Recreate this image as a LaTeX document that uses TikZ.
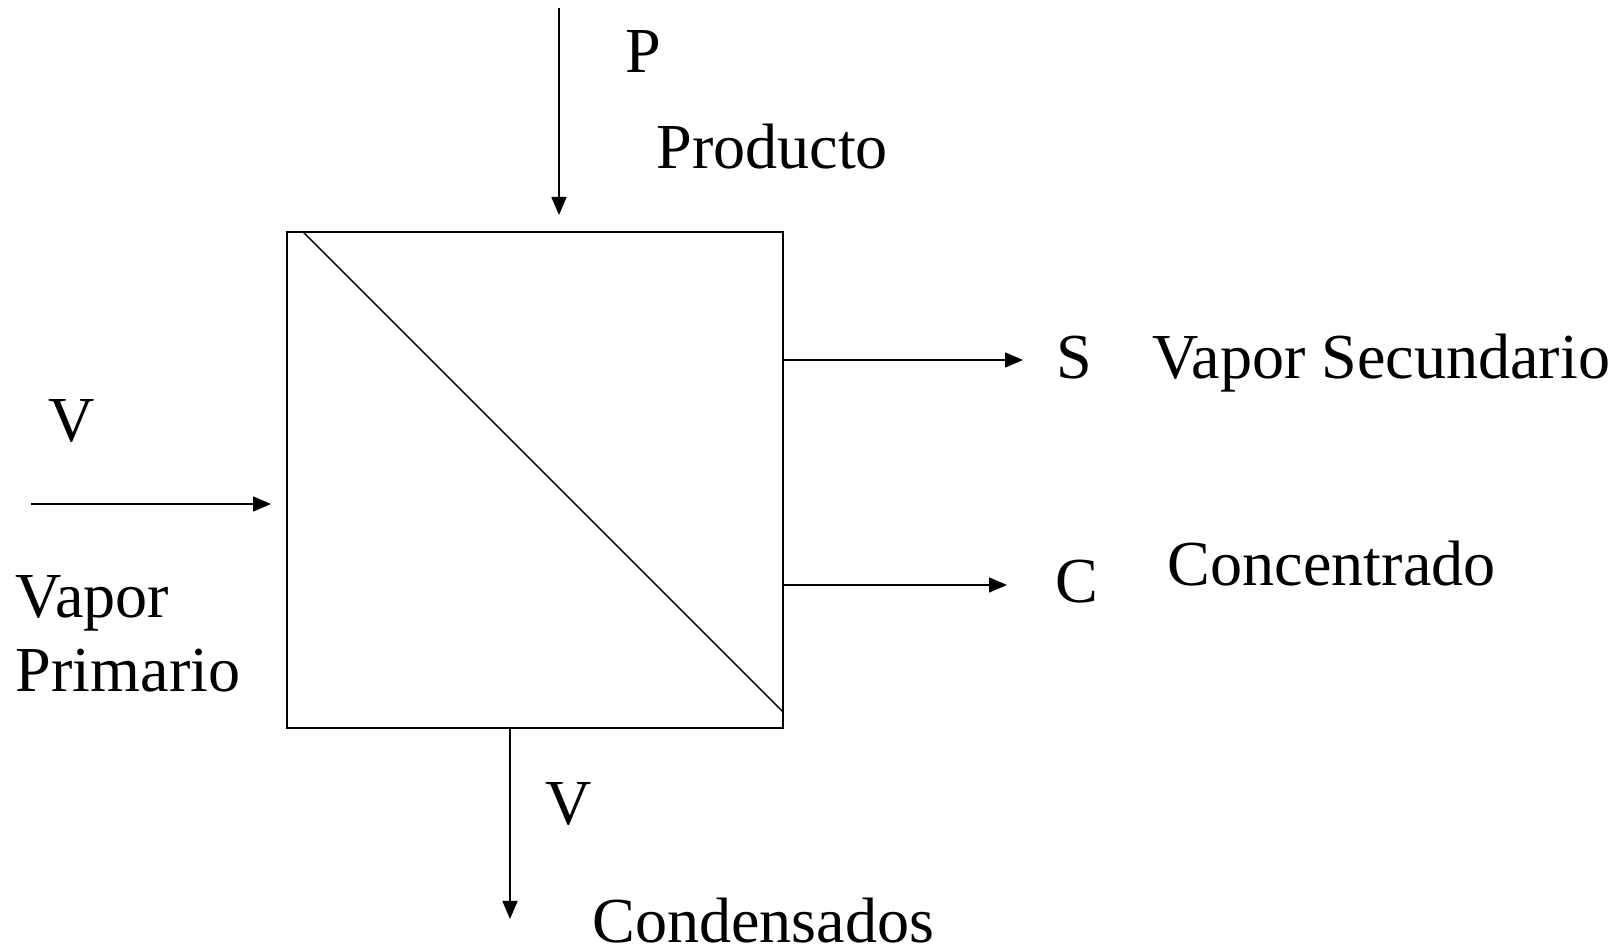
\documentclass[tikz,border=0pt]{standalone}
\usepackage{fontspec}
\setmainfont{Liberation Serif}
\usetikzlibrary{arrows.meta,positioning,calc}
\tikzset{
  unit/.style     = {draw, line width=1.2pt, inner sep=0pt, outer sep=0pt,
                     minimum size=9.92cm},
  split/.style    = {draw, line width=0.8pt},
  flow/.style     = {-{Triangle[length=3.6mm,width=3.0mm]}, draw,
                     line width=0.9pt},
  lbl/.style      = {font=\fontsize{36.5}{42}\selectfont, inner sep=0pt,
                     anchor=base west},
}
\begin{document}
\begin{tikzpicture}
  \useasboundingbox (0,0) rectangle (32.46,19.02);

  % ---- evaporator body ---------------------------------------------------
  \node[unit] (evap) at (10.70,9.42) {};
  \draw[split] ([xshift=0.32cm]evap.north west) -- ([yshift=0.32cm]evap.south east);

  % ---- stream ends --------------------------------------------------------
  \coordinate (pin)     at (11.18,18.86);
  \coordinate (pintip)  at (11.18,14.72);
  \coordinate (vin)     at (0.62,8.94);
  \coordinate (vintip)  at (5.42,8.94);
  \coordinate (sout)    at (20.46,11.82);
  \coordinate (cout)    at (20.14,7.32);
  \coordinate (condout) at (10.20,0.64);

  % ---- connectors ---------------------------------------------------------
  \draw[flow] (pin) -- (pintip);
  \draw[flow] (vin) -- (vintip);
  \draw[flow] (evap.east |- sout) -- (sout);
  \draw[flow] (evap.east |- cout) -- (cout);
  \draw[flow] (evap.south -| condout) -- (condout);

  % ---- labels -------------------------------------------------------------
  \node[lbl] (lblp)    at (12.50,17.57) {P};
  \node[lbl] (lblprod) at (13.12,15.65) {Producto};
  \node[lbl] (lblv)    at (0.97,10.18)  {V};
  \node[lbl] (lblvap)  at (0.31,6.66)   {Vapor};
  \node[lbl] (lblprim) at (0.31,5.19)   {Primario};
  \node[lbl] (lbls)    at (21.13,11.44) {S};
  \node[lbl] (lblsec)  at (23.04,11.44) {Vapor Secundario};
  \node[lbl] (lblc)    at (21.11,6.96)  {C};
  \node[lbl] (lblconc) at (23.35,7.30)  {Concentrado};
  \node[lbl] (lblvb)   at (10.91,2.52)  {V};
  \node[lbl] (lblcond) at (11.84,0.17)  {Condensados};

\end{tikzpicture}
\end{document}
